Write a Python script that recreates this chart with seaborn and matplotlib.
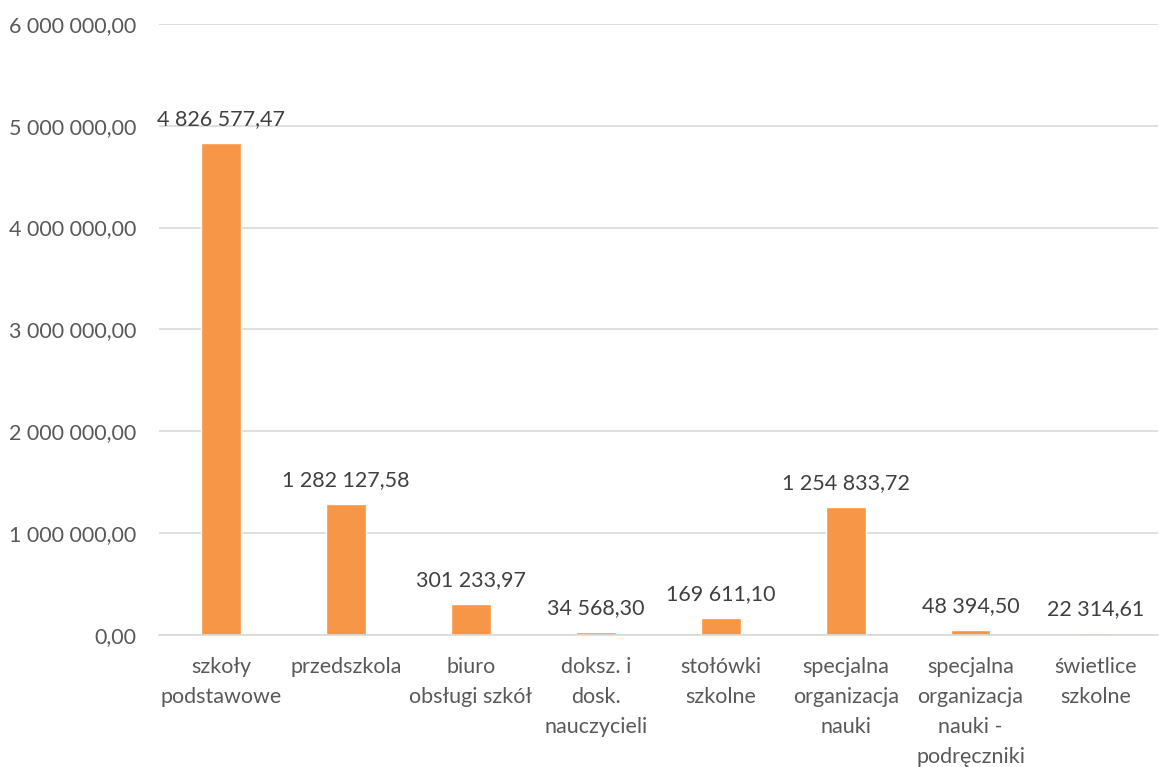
import matplotlib
matplotlib.use("Agg")
import matplotlib.pyplot as plt
import seaborn as sns
import pandas as pd

categories = ["szkoły\npodstawowe", "przedszkola", "biuro\nobsługi szkół",
              "doksz. i\ndosk.\nnauczycieli", "stołówki\nszkolne",
              "specjalna\norganizacja\nnauki",
              "specjalna\norganizacja\nnauki -\npodręczniki",
              "świetlice\nszkolne"]
values = [4826577.47, 1282127.58, 301233.97, 34568.30, 169611.10,
          1254833.72, 48394.50, 22314.61]
yticks = [0, 1000000, 2000000, 3000000, 4000000, 5000000, 6000000]


def fmt(v):
    s = f"{v:,.2f}"
    return s.replace(",", " ").replace(".", ",")


sns.set_theme(style="white")
plt.rcParams['font.family'] = ['Lato', 'DejaVu Sans']

df = pd.DataFrame({"cat": categories, "val": values})
fig = plt.figure(figsize=(11.59, 7.67), dpi=100)
ax = fig.add_axes([0.137, 0.172, 0.862, 0.797])
sns.barplot(data=df, x="cat", y="val", color="#F79646", saturation=1,
            width=0.32, ax=ax)
ax.set_ylim(0, 6000000)
ax.set_xlim(-0.5, len(categories) - 0.5)
ax.set_yticks(yticks)
ax.set_yticklabels([fmt(t) for t in yticks], color="#595959", fontsize=15.5)
ax.yaxis.grid(True, color="#D9D9D9", linewidth=1.2)
ax.set_axisbelow(True)
for s in ["top", "right", "left"]:
    ax.spines[s].set_visible(False)
ax.spines["bottom"].set_color("#D9D9D9")
ax.spines["bottom"].set_linewidth(1.2)
ax.tick_params(axis="both", length=0)
ax.tick_params(axis="y", pad=16)
ax.tick_params(axis="x", pad=16)
ax.set_xticks(range(len(categories)))
ax.set_xticklabels(categories, color="#595959", fontsize=15.5, linespacing=1.62,
                   va="top")
ax.set_xlabel("")
ax.set_ylabel("")
ax.bar_label(ax.containers[0], labels=[fmt(v) for v in values], padding=10,
             color="#404040", fontsize=15.5)
fig.savefig("out.png", dpi=100)
